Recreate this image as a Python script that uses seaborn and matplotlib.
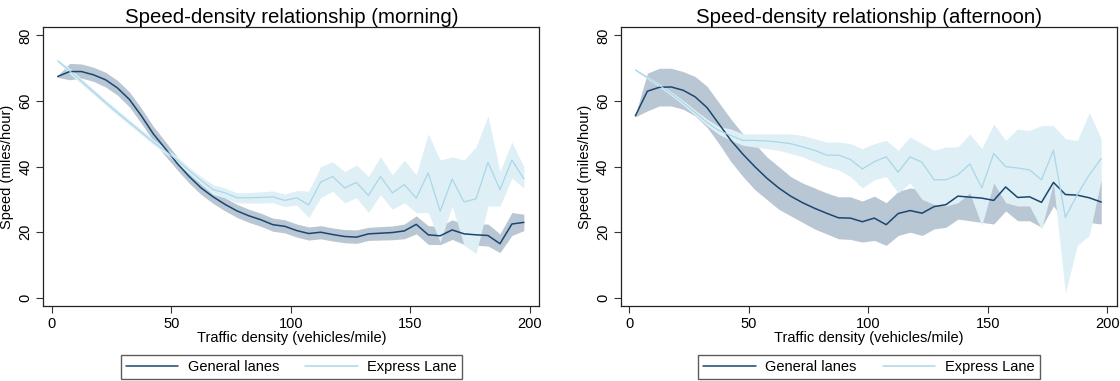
import numpy as np
import pandas as pd
import matplotlib
matplotlib.use("Agg")
import matplotlib.pyplot as plt
import seaborn as sns

# ---------------- data ----------------
density = [2.5, 7.5, 12.5, 17.5, 22.5, 27.5, 32.5, 37.5, 42.5, 47.5,
           52.5, 57.5, 62.5, 67.5, 72.5, 77.5, 82.5, 87.5, 92.5, 97.5,
           102.5, 107.5, 112.5, 117.5, 122.5, 127.5, 132.5, 137.5, 142.5, 147.5,
           152.5, 157.5, 162.5, 167.5, 172.5, 177.5, 182.5, 187.5, 192.5, 197.5]

# Morning - general lanes
am_gen = [67.5, 69, 69, 68, 66.5, 64, 60.5, 55.5, 50, 45.5,
          41, 37, 33.5, 30.8, 28.5, 26.5, 25, 23.8, 22.3, 21.8,
          20.5, 19.6, 20, 19.3, 18.7, 18.5, 19.5, 19.7, 19.9, 20.4,
          22.4, 19.2, 18.9, 20.7, 19.5, 19.2, 19.0, 16.5, 22.5, 23]
am_gen_lo = [67.2, 66.5, 67, 66, 64.3, 61.8, 58.2, 53.2, 47.8, 43.3,
             39, 35, 31.5, 28.8, 26.5, 24.5, 23, 21.8, 20.3, 19.8,
             18.5, 17.6, 18, 17.3, 16.8, 16.6, 17.5, 17.6, 17.7, 18,
             19.5, 16.3, 16.2, 17.8, 16.3, 16, 15.8, 13.8, 19, 20.5]
am_gen_hi = [67.8, 71.5, 71.3, 70.3, 68.8, 66.3, 62.8, 57.8, 52.3, 47.7,
             43, 39, 35.5, 32.8, 30.5, 28.5, 27, 25.8, 24.3, 23.8,
             22.5, 21.6, 22, 21.3, 20.8, 20.7, 21.5, 21.7, 21.9, 22.5,
             25, 22, 21.8, 23.8, 22.5, 22.5, 22.5, 19.5, 26, 25.5]

# Morning - express lane
am_exp = [72.3, 69.2, 66, 62.8, 59.6, 56.5, 53.5, 50.5, 47.5, 44.8,
          42.0, 38.8, 35.8, 33, 32, 30.5, 30.5, 30.6, 30.8, 29.7,
          30.5, 28.3, 35.3, 37, 33.5, 35.2, 31.2, 37, 32, 34.5,
          30.4, 38.1, 26.4, 36.2, 29.2, 30.2, 41.3, 33, 42, 36.3]
am_exp_lo = [72.0, 68.4, 65.2, 62.0, 58.8, 55.7, 52.7, 49.7, 46.7, 44.0,
             41.0, 37.8, 34.6, 31.5, 30.5, 29.0, 28.9, 28.9, 29.0, 27.8,
             28.3, 24.5, 30.5, 32.5, 29, 30.5, 26, 31.5, 27, 29,
             26, 26, 17, 28, 16, 13.5, 28, 28, 36.5, 33.5]
am_exp_hi = [72.6, 70.0, 66.8, 63.6, 60.4, 57.3, 54.3, 51.3, 48.3, 45.6,
             43.0, 39.8, 37.0, 34.5, 33.5, 32.0, 32.1, 32.3, 32.6, 31.6,
             32.7, 32.5, 40, 41.5, 38.5, 40.5, 37, 43, 37.5, 42,
             37.5, 50, 42, 43, 42, 46, 55.5, 38.5, 47.5, 40]

# Afternoon - general lanes
pm_gen = [55.5, 63, 64.2, 64.3, 63.3, 61.3, 58, 53, 48, 43.8,
          40, 36.5, 33.5, 31, 29, 27.3, 25.8, 24.4, 24.3, 23.2,
          24.3, 22.3, 25.7, 26.6, 25.8, 27.8, 28.4, 31, 30.7, 30.4,
          29.7, 33.8, 30.6, 30.8, 29.1, 35.2, 31.5, 31.3, 30.5, 29.2]
pm_gen_lo = [55.2, 57, 58.5, 58.5, 57.5, 55.5, 52, 47, 41.5, 37,
             33, 30, 27, 25, 23, 21, 19.5, 18, 17.8, 17,
             17.5, 16, 19, 20, 19, 21, 21.5, 24, 23.5, 23,
             22.5, 26.5, 23.5, 23.5, 21.5, 28, 23, 23, 23, 22.5]
pm_gen_hi = [55.8, 68.5, 70, 70, 69, 67.5, 64.5, 59.5, 54.5, 50,
             47, 43, 40, 37, 35, 33.5, 32, 30.8, 30.8, 29.5,
             31, 29, 32.5, 33.5, 33, 34.5, 35.5, 38, 38, 37.5,
             37, 41, 38, 38, 36.5, 42, 40, 40, 38, 35.5]

# Afternoon - express lane
pm_exp = [69.5, 67.2, 64.8, 62.3, 59.5, 56.5, 53.5, 51, 49.5, 48,
          48, 47.8, 47.5, 47, 46, 45, 43.5, 43.5, 42.2, 39.3,
          41.5, 43, 38.3, 43, 41.3, 36, 36, 37.5, 40.8, 33.5,
          44, 40, 39.6, 39, 36, 45, 24.5, 31.5, 37.5, 42.5]
pm_exp_lo = [69.2, 66.8, 64.3, 61.7, 58.8, 55.7, 52.5, 49.8, 48.0, 46.5,
             46, 45.5, 45, 44, 43, 41.5, 40, 39, 37, 33.5,
             36, 37, 32, 35, 30, 28.5, 28, 29, 32, 22,
             35, 29, 28, 28, 21, 35, 1.5, 16, 19, 36]
pm_exp_hi = [69.8, 67.6, 65.3, 62.9, 60.2, 57.3, 54.5, 52.2, 51.5, 50,
             50, 50, 50, 50, 49.5, 48.5, 47.5, 47.5, 47, 45.5,
             47, 48, 45, 49, 47, 45, 46, 46, 50, 45.5,
             53, 48, 51.5, 51, 52.5, 52.5, 48.5, 48, 56.5, 48.5]

titles = ["Speed-density relationship (morning)",
          "Speed-density relationship (afternoon)"]
series_names = ["General lanes", "Express Lane"]
x_ticks = [0, 50, 100, 150, 200]
y_ticks = [0, 20, 40, 60, 80]

# ---------------- style ----------------
sns.set_style("white")
plt.rcParams["font.family"] = ["Liberation Sans", "DejaVu Sans"]
plt.rcParams["text.color"] = "black"
plt.rcParams["axes.labelcolor"] = "black"
plt.rcParams["xtick.color"] = "black"
plt.rcParams["ytick.color"] = "black"

gen_line = "#1a476f"
exp_line = "#a9d7e8"
gen_band = "#b9c6d3"
exp_band = "#deeff6"

fig = plt.figure(figsize=(11.2, 3.81), dpi=100)
axes = [fig.add_axes([0.0387, 0.1969, 0.4429, 0.7323]),
        fig.add_axes([0.5545, 0.1969, 0.4426, 0.7323])]

panels = [
    (am_gen, am_gen_lo, am_gen_hi, am_exp, am_exp_lo, am_exp_hi),
    (pm_gen, pm_gen_lo, pm_gen_hi, pm_exp, pm_exp_lo, pm_exp_hi),
]

for ax, title, (g, glo, ghi, e, elo, ehi) in zip(axes, titles, panels):
    df = pd.DataFrame({
        "density": density * 2,
        "speed": g + e,
        "lane": [series_names[0]] * len(density) + [series_names[1]] * len(density),
    })
    ax.fill_between(density, glo, ghi, color=gen_band, lw=0, zorder=1)
    ax.fill_between(density, elo, ehi, color=exp_band, lw=0, zorder=2)
    sns.lineplot(data=df, x="density", y="speed", hue="lane",
                 palette={series_names[0]: gen_line, series_names[1]: exp_line},
                 ax=ax, zorder=3, legend=False)
    ax.lines[0].set_linewidth(1.1)
    ax.lines[1].set_linewidth(0.9)

    ax.set_xlim(-3.5, 204)
    ax.set_ylim(-2.5, 82.6)
    ax.set_xticks(x_ticks)
    ax.set_yticks(y_ticks)
    ax.tick_params(axis="both", which="both", direction="out", length=5,
                   width=0.8, color="#333333", labelsize=10.5, pad=3,
                   bottom=True, left=True, top=False, right=False)
    for lab in ax.get_yticklabels():
        lab.set_rotation(90)
        lab.set_va("center")
    for sp in ax.spines.values():
        sp.set_color("#222222")
        sp.set_linewidth(0.9)
        sp.set_visible(True)
    ax.set_xlabel("Traffic density (vehicles/mile)", fontsize=10.5, labelpad=0)
    ax.set_ylabel("Speed (miles/hour)", fontsize=10.5, labelpad=3)
    ax.set_title(title, fontsize=14.7, pad=3)

    handles = [plt.Line2D([], [], color=gen_line, lw=1.1),
               plt.Line2D([], [], color=exp_line, lw=1.1)]
    leg = ax.legend(handles, series_names, loc="upper center",
                    bbox_to_anchor=(0.5, -0.175), ncol=2, frameon=True,
                    fancybox=False, edgecolor="#333333", fontsize=10.5,
                    handlelength=3.6, columnspacing=1.8, borderpad=0.35,
                    handletextpad=0.65, borderaxespad=0)
    leg.get_frame().set_linewidth(1.0)

fig.savefig("out.png", dpi=100)
